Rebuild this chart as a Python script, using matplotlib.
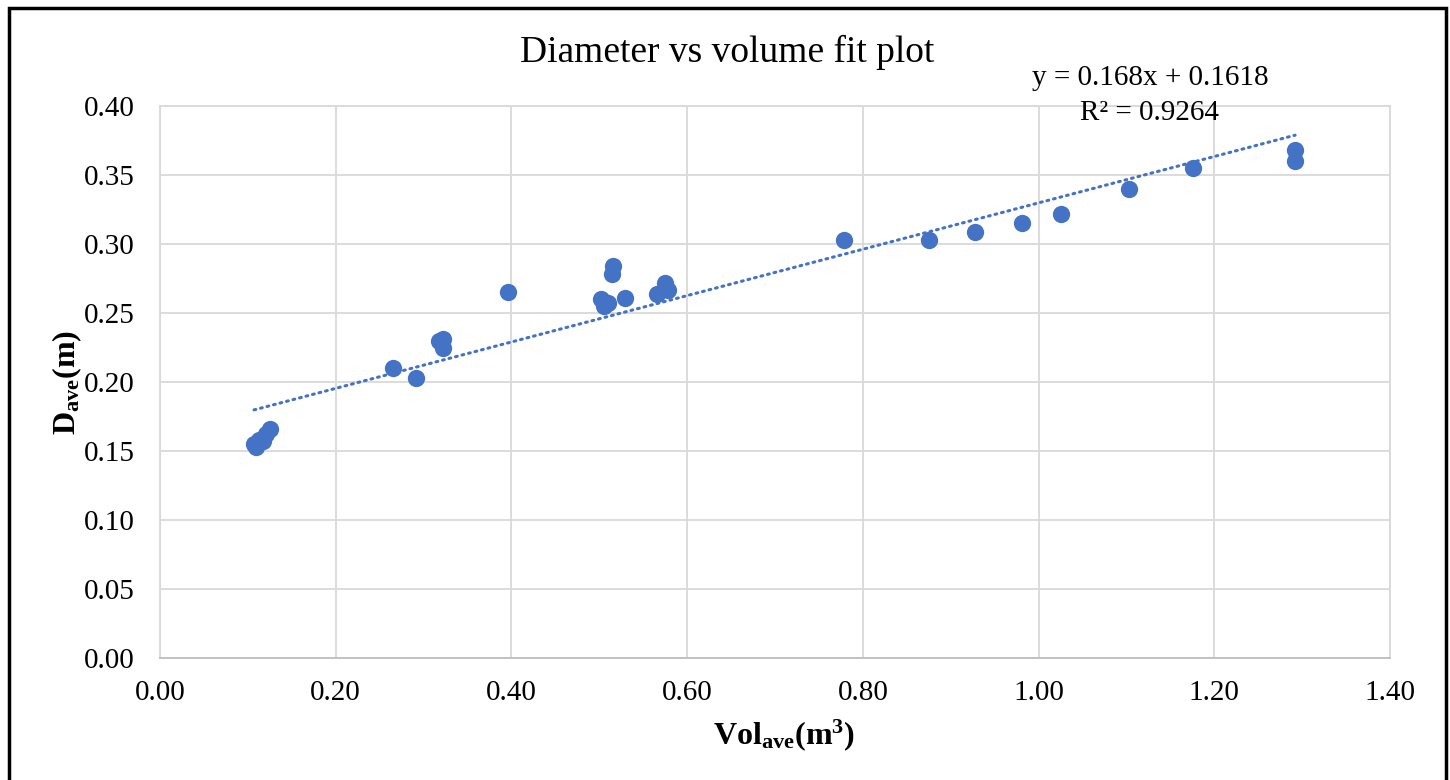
import matplotlib
matplotlib.use("Agg")
import matplotlib.pyplot as plt
from matplotlib.patches import Rectangle
import numpy as np

plt.rcParams['font.family'] = ['Liberation Serif', 'DejaVu Serif']
plt.rcParams['mathtext.fontset'] = 'custom'
plt.rcParams['mathtext.rm'] = 'Liberation Serif'
plt.rcParams['mathtext.bf'] = 'Liberation Serif:bold'

# volume (m3) and average diameter (m)
vol = [0.107, 0.109, 0.113, 0.117, 0.121, 0.125,
       0.265, 0.291, 0.318, 0.322, 0.322, 0.396,
       0.502, 0.505, 0.510, 0.515, 0.516, 0.529,
       0.566, 0.575, 0.578, 0.779, 0.875, 0.928,
       0.981, 1.025, 1.103, 1.176, 1.292, 1.292]
dia = [0.155, 0.153, 0.158, 0.157, 0.162, 0.166,
       0.210, 0.203, 0.230, 0.231, 0.225, 0.265,
       0.260, 0.255, 0.257, 0.278, 0.284, 0.261,
       0.264, 0.272, 0.267, 0.303, 0.303, 0.309,
       0.315, 0.322, 0.340, 0.355, 0.368, 0.360]

slope = 0.168
intercept = 0.1618
r2 = 0.9264

blue = '#4472C4'
grid = '#d9d9d9'

fig = plt.figure(figsize=(14.5, 7.8), dpi=100)
ax = fig.add_axes([160/1450, 1 - 658/780, 1230/1450, 552/780])

ax.scatter(vol, dia, s=155, color=blue, zorder=3, linewidths=0)

xs = np.array([min(vol), max(vol)])
ax.plot(xs, slope * xs + intercept, color=blue, lw=2.2, linestyle=(0, (0.6, 1.6)),
        dash_capstyle='round', zorder=2)

ax.set_xlim(0, 1.4)
ax.set_ylim(0, 0.4)
ax.set_xticks(np.arange(0, 1.41, 0.2))
ax.set_yticks(np.arange(0, 0.401, 0.05))
ax.xaxis.set_major_formatter(matplotlib.ticker.FormatStrFormatter('%.2f'))
ax.yaxis.set_major_formatter(matplotlib.ticker.FormatStrFormatter('%.2f'))
ax.tick_params(length=0, labelsize=21)
ax.tick_params(axis='y', pad=18)
ax.tick_params(axis='x', pad=16)
ax.grid(True, color=grid, lw=1.3)
ax.set_axisbelow(True)
for sp in ax.spines.values():
    sp.set_color(grid)
    sp.set_linewidth(1.3)
ax.spines['bottom'].set_color('#bfbfbf')

ax.set_xlabel(r'$\mathbf{Vol_{ave}(m^3)}$', fontsize=23, va='center')
ax.set_ylabel(r'$\mathbf{D_{ave}(m)}$', fontsize=23, va='center')
ax.xaxis.set_label_coords(0.5 + 9/1230, -77/552)
ax.yaxis.set_label_coords(-93/1230, 0.5)

fig.text(727/1450, 1 - 52/780, 'Diameter vs volume fit plot', ha='center', va='center', fontsize=27)
fig.text(1150/1450, 1 - 78/780, 'y = 0.168x + 0.1618', ha='center', va='center', fontsize=21)
fig.text(1150/1450, 1 - 113/780, 'R² = 0.9264', ha='center', va='center', fontsize=21)

fig.patches.append(Rectangle((9/1450, -0.02), 1437/1450, 1 - 8/780 + 0.02,
                             transform=fig.transFigure, fill=False, edgecolor='black', lw=2.5))

fig.savefig('out.png', dpi=100)
